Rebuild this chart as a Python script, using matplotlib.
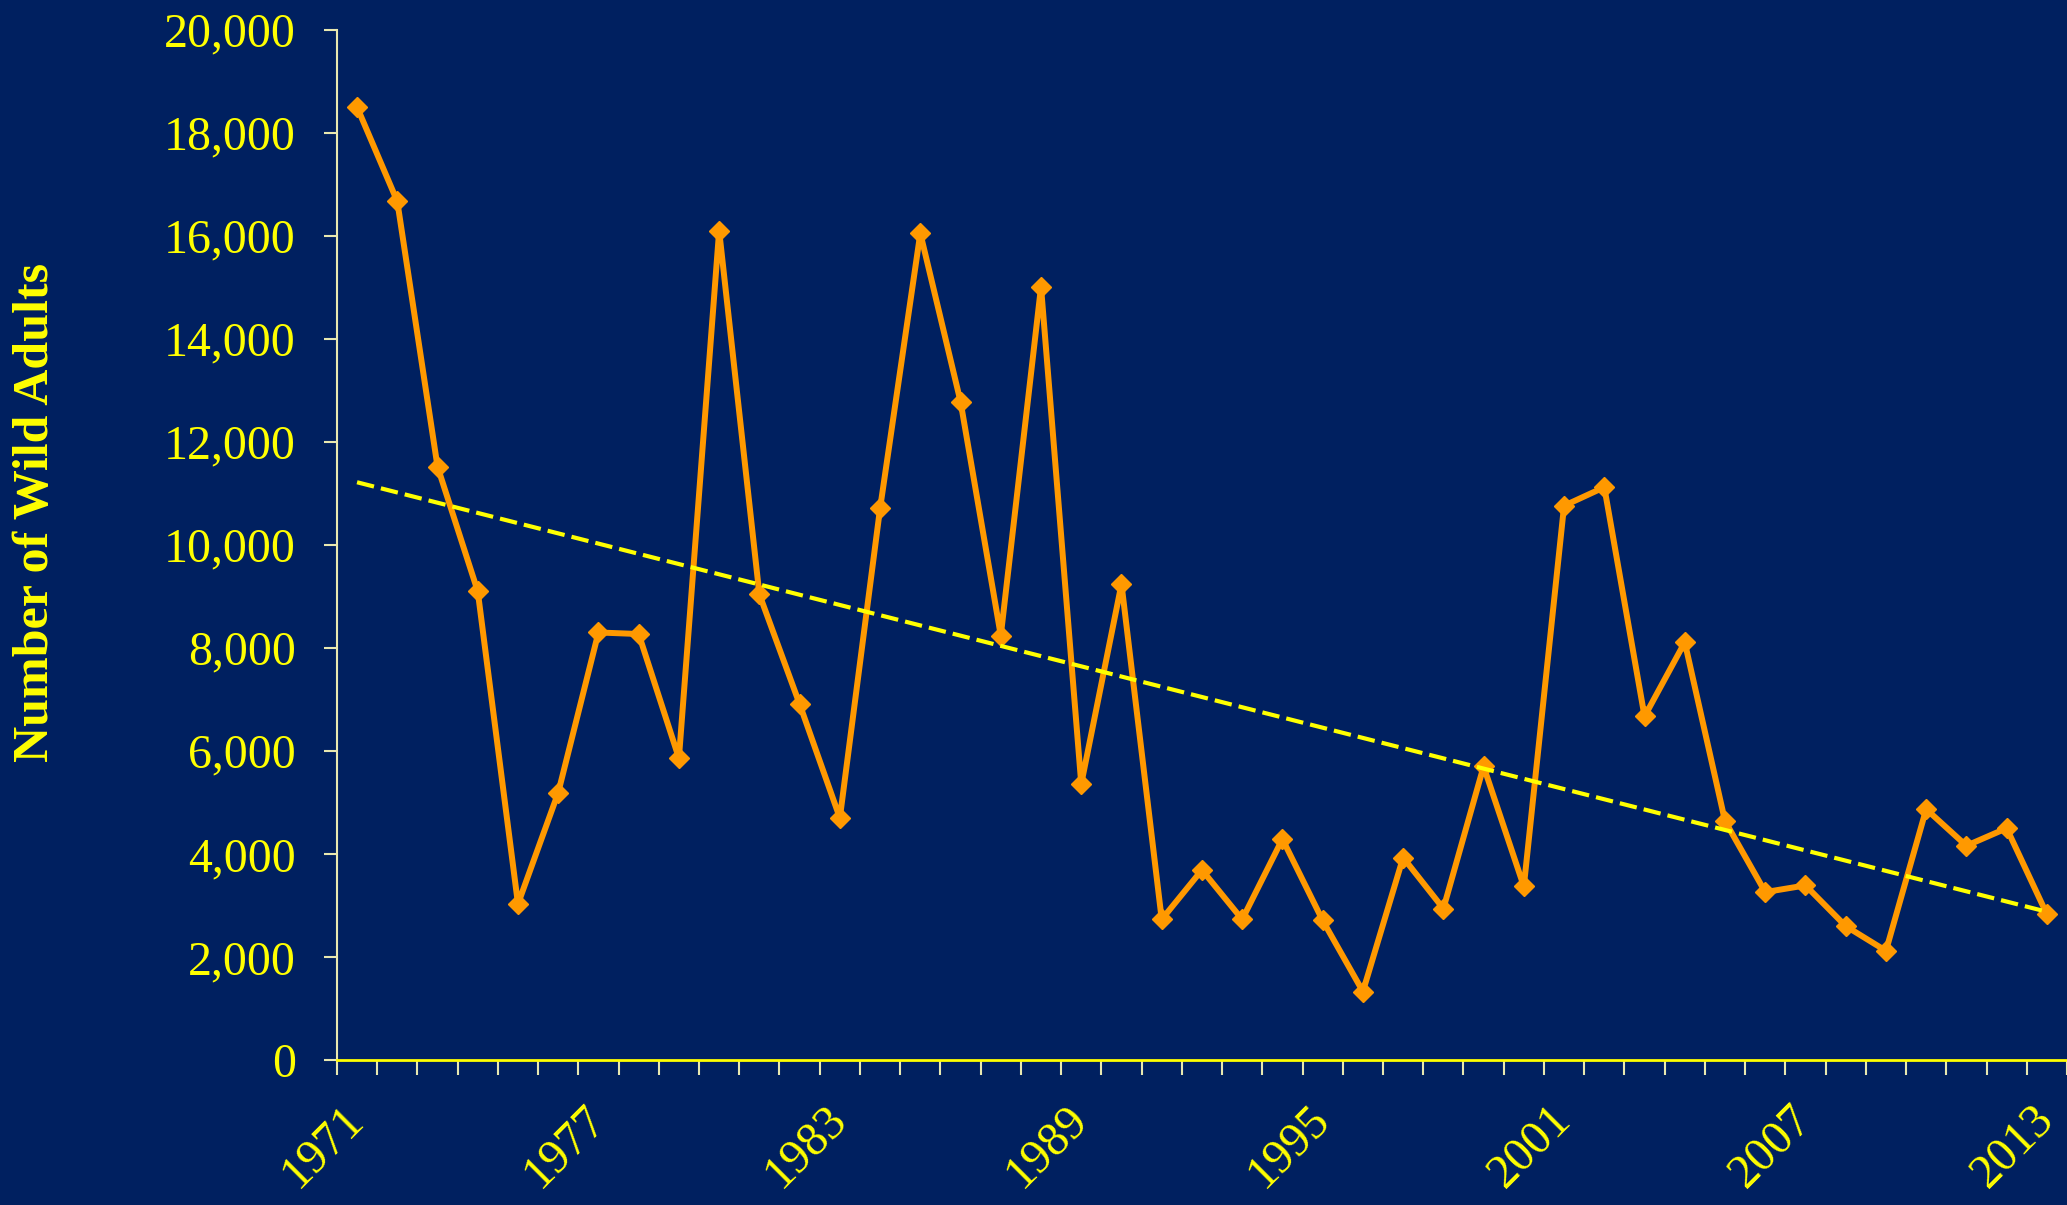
import numpy as np
import matplotlib

matplotlib.use("Agg")
import matplotlib.pyplot as plt
from matplotlib.ticker import FuncFormatter

# Wild adult counts per year
years = list(range(1971, 2014))
wild_adults = [
    18500, 16670, 11520, 9100, 3030, 5190, 8300, 8270, 5860, 16100,
    9040, 6910, 4700, 10710, 16050, 12780, 8240, 15010, 5360, 9240,
    2730, 3690, 2730, 4290, 2710, 1330, 3930, 2940, 5700, 3370,
    10760, 11120, 6670, 8110, 4640, 3260, 3390, 2600, 2120, 4870,
    4160, 4500, 2830,
]
label_every = 6
y_ticks = list(range(0, 20001, 2000))

BG = "#002060"
YELLOW = "#FFFF00"
PALE = "#E8E8B0"
ORANGE = "#FF9900"

plt.rcParams["font.family"] = ["Liberation Serif", "DejaVu Serif"]

fig = plt.figure(figsize=(20.67, 12.05), dpi=100, facecolor=BG)
ax = fig.add_axes([0.163, 0.1203, 0.837, 0.855])
ax.set_facecolor(BG)

x = np.arange(len(years))
ax.plot(x, wild_adults, color=ORANGE, lw=4.3, marker="D", ms=10,
        mec=ORANGE, mfc=ORANGE, zorder=3)

# linear trendline, like Excel's
coef = np.polyfit(x, wild_adults, 1)
ax.plot(x, np.polyval(coef, x), color=YELLOW, lw=3,
        linestyle=(0, (4.2, 1.7)), zorder=4)

ax.set_xlim(-0.5, len(years) - 0.5)
ax.set_ylim(0, 20000)

# y axis
ax.set_yticks(y_ticks)
ax.yaxis.set_major_formatter(FuncFormatter(lambda v, _: f"{int(v):,}"))
ax.tick_params(axis="y", direction="out", length=9.6, width=1.5,
               color=PALE, labelcolor=YELLOW, labelsize=34.5, pad=20)

# x axis: ticks between categories, labels every 6th year
ax.set_xticks(x[::label_every])
ax.set_xticklabels([str(years[i]) for i in x[::label_every]])
ax.set_xticks(np.arange(-0.5, len(years), 1), minor=True)
ax.tick_params(axis="x", which="major", length=0, labelcolor=YELLOW,
               labelsize=34.5, pad=38)
ax.tick_params(axis="x", which="minor", direction="out", length=11,
               width=1.5, color=PALE)
for lbl in ax.get_xticklabels():
    lbl.set_rotation(45)
    lbl.set_ha("right")
    lbl.set_va("center")
    lbl.set_rotation_mode("anchor")

for side in ("top", "right"):
    ax.spines[side].set_visible(False)
ax.spines["left"].set_color(PALE)
ax.spines["left"].set_linewidth(1.5)
ax.spines["bottom"].set_color(YELLOW)
ax.spines["bottom"].set_linewidth(2)

fig.text(0.0172, 0.575, "Number of Wild Adults", rotation=90, ha="center",
         va="center", color=YELLOW, fontsize=36, fontweight="bold")

fig.savefig("out.png", dpi=100, facecolor=BG)
